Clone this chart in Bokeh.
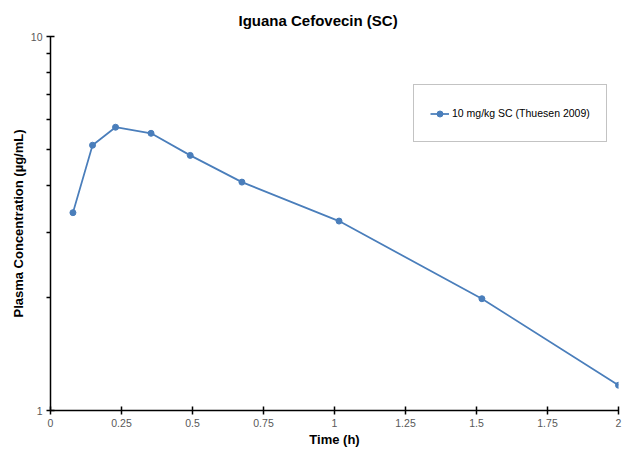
from bokeh.plotting import figure
from bokeh.models import FixedTicker, Legend, LegendItem, Range1d
from bokeh.embed import file_html
from bokeh.resources import INLINE

# ---- data ----
time_h = [0.079, 0.148, 0.229, 0.354, 0.492, 0.674, 1.016, 1.519, 2.0]
conc_ug_ml = [3.38, 5.12, 5.72, 5.51, 4.81, 4.08, 3.21, 1.99, 1.168]
series_name = "10 mg/kg SC (Thuesen 2009)"
title_text = "Iguana Cefovecin (SC)"
x_label = "Time (h)"
y_label = "Plasma Concentration (µg/mL)"
x_ticks = [0, 0.25, 0.5, 0.75, 1, 1.25, 1.5, 1.75, 2]
x_tick_labels = ["0", "0.25", "0.5", "0.75", "1", "1.25", "1.5", "1.75", "2"]
y_ticks = [1, 10]
y_tick_labels = ["1", "10"]
y_minor_ticks = [2, 3, 4, 5, 6, 7, 8, 9]

FONT = "Liberation Sans"
BLUE = "#4A7EBB"

p = figure(width=624, height=449, output_backend="svg", toolbar_location=None,
           y_axis_type="log",
           x_range=Range1d(0, 2), y_range=Range1d(1, 10),
           min_border_left=50, min_border_right=6, min_border_top=36, min_border_bottom=37)

p.outline_line_color = None
p.xgrid.visible = False
p.ygrid.visible = False
p.background_fill_color = "white"
p.border_fill_color = "white"

# title
p.title.text = title_text
p.title.text_font = FONT
p.title.text_font_size = "15px"
p.title.text_font_style = "bold"
p.title.text_color = "black"
p.title.align = "left"
p.title.offset = 188
p.title.standoff = 16

line_r = p.line(time_h, conc_ug_ml, line_color=BLUE, line_width=1.75)
pts_r = p.scatter(time_h, conc_ug_ml, size=6, fill_color=BLUE, line_color=BLUE)

# axes
for ax in (p.xaxis[0], p.yaxis[0]):
    ax.axis_line_color = "black"
    ax.axis_line_width = 1.5
    ax.major_tick_line_color = "black"
    ax.major_tick_line_width = 1.5
    ax.major_tick_in = 4
    ax.major_tick_out = 4
    ax.major_label_text_font = FONT
    ax.major_label_text_font_size = "10.5px"
    ax.major_label_text_color = "#595959"
    ax.axis_label_text_font = FONT
    ax.axis_label_text_font_size = "13px"
    ax.axis_label_text_font_style = "bold"
    ax.axis_label_text_color = "black"

xa = p.xaxis[0]
xa.ticker = FixedTicker(ticks=x_ticks, minor_ticks=[])
xa.major_label_overrides = {t: l for t, l in zip(x_ticks, x_tick_labels)}
xa.minor_tick_line_color = None
xa.major_label_standoff = 4
xa.axis_label = x_label
xa.axis_label_standoff = 2

ya = p.yaxis[0]
ya.ticker = FixedTicker(ticks=y_ticks, minor_ticks=y_minor_ticks)
ya.major_label_overrides = {t: l for t, l in zip(y_ticks, y_tick_labels)}
ya.minor_tick_line_color = "black"
ya.minor_tick_line_width = 1.5
ya.minor_tick_in = 0
ya.minor_tick_out = 4
ya.major_label_standoff = 4
ya.axis_label = y_label
ya.axis_label_standoff = 2

legend = Legend(items=[LegendItem(label=series_name, renderers=[line_r, pts_r])],
                location=(363, 268))
legend.label_text_font = FONT
legend.label_text_font_size = "10.5px"
legend.label_text_color = "black"
legend.border_line_color = "#888888"
legend.border_line_width = 1
legend.background_fill_color = "white"
legend.background_fill_alpha = 1
legend.padding = 16
legend.spacing = 0
legend.margin = 0
legend.glyph_width = 19
legend.glyph_height = 15
legend.label_height = 24
legend.label_standoff = 3
p.add_layout(legend)

open("out.html", "w").write(file_html(p, INLINE))
